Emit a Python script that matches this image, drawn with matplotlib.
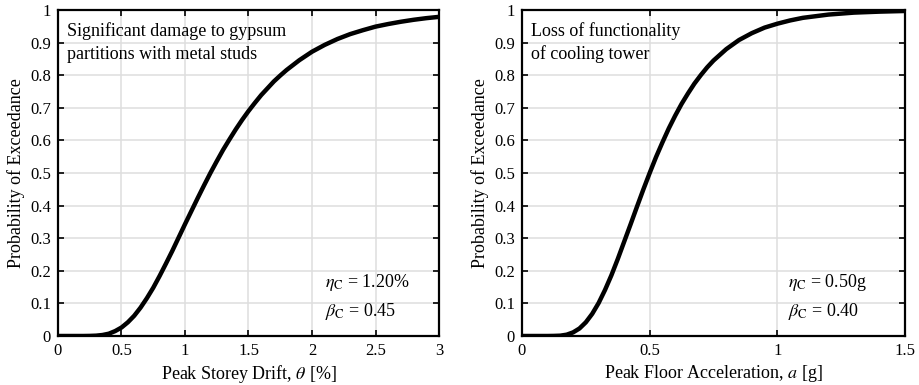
import numpy as np
import matplotlib
matplotlib.use('Agg')
import matplotlib.pyplot as plt

plt.rcParams['font.family'] = ['Liberation Serif', 'DejaVu Serif']
plt.rcParams['mathtext.fontset'] = 'stix'

## fragility curve values
drift = [0.0, 0.1, 0.2, 0.25, 0.3, 0.35, 0.4, 0.45, 0.5, 0.55, 0.6, 0.65, 0.7, 0.75,
         0.8, 0.85, 0.9, 0.95, 1.0, 1.05, 1.1, 1.15, 1.2, 1.25, 1.3, 1.35, 1.4, 1.45,
         1.5, 1.55, 1.6, 1.65, 1.7, 1.75, 1.8, 1.9, 2.0, 2.1, 2.2, 2.3, 2.4, 2.5, 2.6,
         2.7, 2.8, 2.9, 3.0]
p_drift = [0.0, 0.0, 0.0, 0.0003, 0.001, 0.003, 0.007, 0.015, 0.026, 0.042, 0.062,
           0.087, 0.116, 0.148, 0.184, 0.222, 0.261, 0.302, 0.343, 0.383, 0.423, 0.462,
           0.500, 0.536, 0.571, 0.603, 0.634, 0.663, 0.690, 0.715, 0.739, 0.760, 0.781,
           0.799, 0.816, 0.846, 0.872, 0.893, 0.911, 0.926, 0.938, 0.949, 0.957, 0.964,
           0.970, 0.975, 0.979]

accel = [0.0, 0.05, 0.1, 0.125, 0.15, 0.175, 0.2, 0.225, 0.25, 0.275, 0.3, 0.325, 0.35,
         0.375, 0.4, 0.425, 0.45, 0.475, 0.5, 0.525, 0.55, 0.575, 0.6, 0.625, 0.65,
         0.675, 0.7, 0.725, 0.75, 0.8, 0.85, 0.9, 0.95, 1.0, 1.05, 1.1, 1.15, 1.2, 1.3,
         1.4, 1.5]
p_accel = [0.0, 0.0, 0.0, 0.0003, 0.001, 0.004, 0.011, 0.023, 0.042, 0.068, 0.101, 0.141,
           0.186, 0.236, 0.289, 0.342, 0.396, 0.449, 0.500, 0.549, 0.594, 0.637, 0.676,
           0.712, 0.744, 0.774, 0.800, 0.824, 0.845, 0.880, 0.908, 0.929, 0.946, 0.958,
           0.968, 0.976, 0.981, 0.986, 0.992, 0.995, 0.997]

xticks_l = [0, 0.5, 1, 1.5, 2, 2.5, 3]
xticks_r = [0, 0.5, 1, 1.5]
yticks = np.round(np.arange(0, 1.01, 0.1), 1)
ytick_labels = ['0'] + ['%.1f' % v for v in yticks[1:-1]] + ['1']

fig = plt.figure(figsize=(9.19, 3.85), dpi=100)
ax1 = fig.add_axes([0.0631, 0.1273, 0.4146, 0.8467])
ax2 = fig.add_axes([0.5680, 0.1273, 0.4168, 0.8467])

def style(ax, xt, xlab):
    ax.set_xticks(xt)
    ax.set_xticklabels(['%g' % v for v in xt])
    ax.set_yticks(yticks)
    ax.set_yticklabels(ytick_labels)
    ax.set_xlim(xt[0], xt[-1])
    ax.set_ylim(0, 1)
    ax.grid(True, color='#dedede', lw=1.1)
    ax.set_axisbelow(True)
    ax.tick_params(direction='in', top=True, right=True, length=4, width=1.2,
                   labelsize=12, pad=5)
    for s in ax.spines.values():
        s.set_linewidth(1.6)
    ax.set_xlabel(xlab, fontsize=13, labelpad=3)
    ax.set_ylabel('Probability of Exceedance', fontsize=13, labelpad=4)

ax1.plot(drift, p_drift, color='black', lw=3.2, solid_joinstyle='round')
style(ax1, xticks_l, r'Peak Storey Drift, $\theta$ [%]')
ax1.text(0.07, 0.935, 'Significant damage to gypsum', fontsize=13, va='center')
ax1.text(0.07, 0.865, 'partitions with metal studs', fontsize=13, va='center')
ax1.text(2.1, 0.165, r'$\eta_\mathrm{C}$ = 1.20%', fontsize=13, va='center')
ax1.text(2.1, 0.075, r'$\beta_\mathrm{C}$ = 0.45', fontsize=13, va='center')

ax2.plot(accel, p_accel, color='black', lw=3.2, solid_joinstyle='round')
style(ax2, xticks_r, r'Peak Floor Acceleration, $a$ [g]')
ax2.text(0.035, 0.935, 'Loss of functionality', fontsize=13, va='center')
ax2.text(0.035, 0.865, 'of cooling tower', fontsize=13, va='center')
ax2.text(1.04, 0.165, r'$\eta_\mathrm{C}$ = 0.50g', fontsize=13, va='center')
ax2.text(1.04, 0.075, r'$\beta_\mathrm{C}$ = 0.40', fontsize=13, va='center')

fig.savefig('out.png', dpi=100)
